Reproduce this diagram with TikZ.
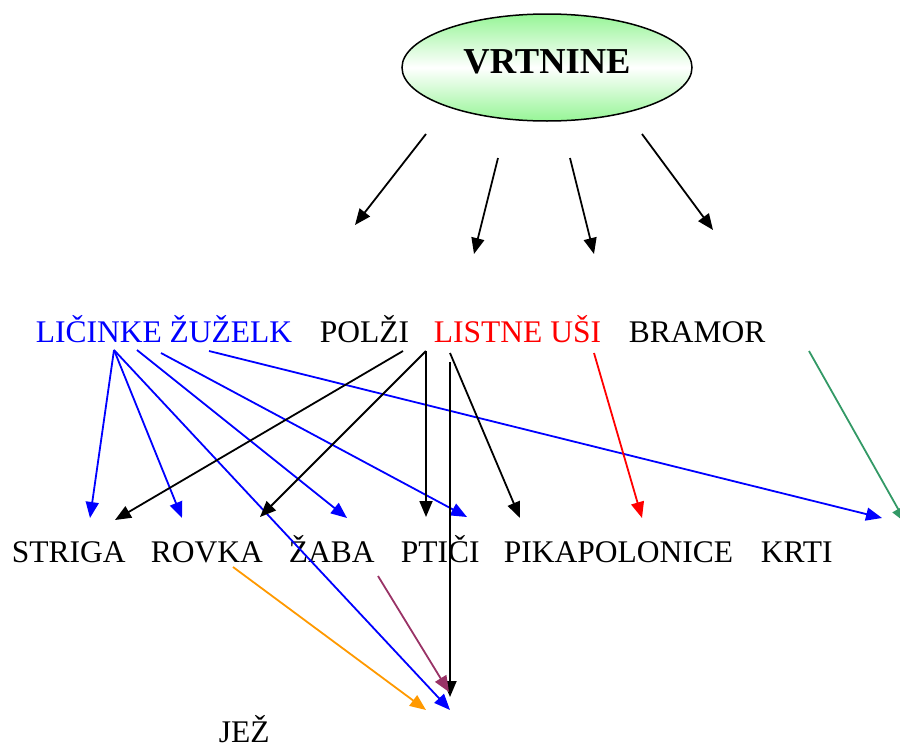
\documentclass[tikz,border=0pt]{standalone}
\usepackage{fontspec}
\setmainfont{Liberation Serif}
\usepackage{xcolor}
\usetikzlibrary{arrows.meta, shapes, calc, positioning}
\definecolor{lightgr}{RGB}{150,245,150}
\definecolor{seagr}{RGB}{51,153,102}
\definecolor{amber}{RGB}{255,153,0}
\definecolor{plum}{RGB}{153,51,102}
\tikzset{> = { Triangle[length = 16pt, width = 13pt] }}

\begin{document}
\begin{tikzpicture}[x = 1pt, y = -1pt, ->, line width = 1.8pt,
		word/.style = { inner sep = 0, anchor = base west, font = \fontsize{31.5}{38}\selectfont },
		bl/.style = { draw = blue }]
		\useasboundingbox (0,0) rectangle (900,747);

		\node [ellipse, draw, line width = 1.5pt, top color = lightgr, bottom color = lightgr, middle color = white,
			minimum width = 290pt, minimum height = 107pt, text height = 23pt, text depth = 12pt,
			font = \fontsize{36.5}{42}\selectfont\bfseries] (vrt) at (547,67.5) {VRTNINE};

		\node [word, text = blue] (lic) at (35,342)  {LIČINKE ŽUŽELK};
		\node [word]              (pol) at (319,342) {POLŽI};
		\node [word, text = red]  (lis) at (433,342) {LISTNE UŠI};
		\node [word]              (bra) at (628,342) {BRAMOR};

		\node [word] (str) at (11,562)  {STRIGA};
		\node [word] (rov) at (150,562) {ROVKA};
		\node [word] (zab) at (288,562) {ŽABA};
		\node [word] (pti) at (400,562) {PTIČI};
		\node [word] (pik) at (503,562) {PIKAPOLONICE};
		\node [word] (krt) at (760,562) {KRTI};
		\node [word] (jez) at (218,742) {JEŽ};

		% free ends below the ellipse
		\coordinate (e1) at (426,134); \coordinate (t1) at (355,225);
		\coordinate (e2) at (498,158); \coordinate (t2) at (474,254);
		\coordinate (e3) at (570,158); \coordinate (t3) at (594,254);
		\coordinate (e4) at (642,134); \coordinate (t4) at (713,230);

		% free ends round the two rows
		\coordinate (licA) at (114,350); \coordinate (licB) at (137,350);
		\coordinate (licC) at (161,353); \coordinate (licD) at (209,351);
		\coordinate (polA) at (403,351); \coordinate (polB) at (426,351);
		\coordinate (lisA) at (450,353); \coordinate (lisB) at (450,362);
		\coordinate (lisR) at (594,353); \coordinate (braA) at (809,351);
		\coordinate (rovA) at (233,567); \coordinate (zabA) at (378,576);

		\coordinate (strB) at (90,518);  \coordinate (strK) at (115,520);
		\coordinate (rovB) at (182,518); \coordinate (rovK) at (260,517);
		\coordinate (zabB) at (347,518); \coordinate (ptiK) at (426,517);
		\coordinate (ptiB) at (467,517); \coordinate (pikK) at (520,518);
		\coordinate (pikR) at (642,518); \coordinate (krtB) at (882,518);
		\coordinate (krtG) at (906,523);
		\coordinate (jezO) at (426,710); \coordinate (jezB) at (450,710);
		\coordinate (jezP) at (449,692); \coordinate (jezK) at (450,697);

		\draw (e1) -- (t1);
		\draw (e2) -- (t2);
		\draw (e3) -- (t3);
		\draw (e4) -- (t4);

		\draw [bl] (licA) -- (strB);
		\draw [bl] (licA) -- (rovB);
		\draw [bl] (licA) -- (jezB);
		\draw [bl] (licB) -- (zabB);
		\draw [bl] (licC) -- (ptiB);
		\draw [bl] (licD) -- (krtB);

		\draw (polA) -- (strK);
		\draw (polB) -- (rovK);
		\draw (polB) -- (ptiK);
		\draw (lisA) -- (pikK);
		\draw (lisB) -- (jezK);

		\draw [red]   (lisR) -- (pikR);
		\draw [seagr] (braA) -- (krtG);
		\draw [amber] (rovA) -- (jezO);
		\draw [plum]  (zabA) -- (jezP);
	\end{tikzpicture}
\end{document}
